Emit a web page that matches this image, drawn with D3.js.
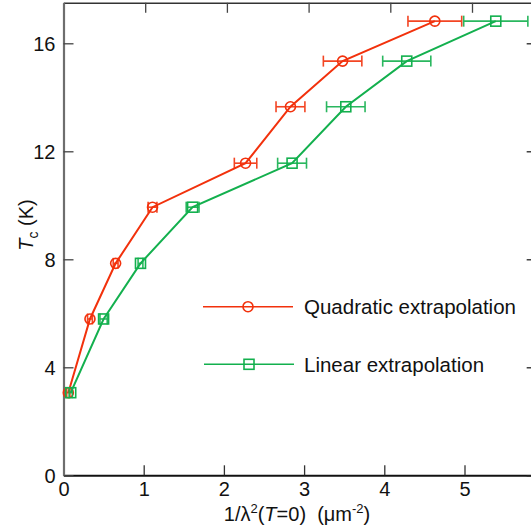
<!DOCTYPE html>
<html><head><meta charset="utf-8">
<script src="https://cdn.jsdelivr.net/npm/d3@7"></script>
<style>body{margin:0;background:#fff}svg{display:block}text{font-family:"Liberation Sans",Arial,Helvetica,sans-serif}</style>
</head><body><svg id="c" width="531" height="531"></svg>
<script>
// Data
const quadX   = [0.06, 0.33, 0.65, 1.11, 2.27, 2.83, 3.48, 4.63];
const quadErr = [0.02, 0.03, 0.03, 0.055, 0.14, 0.18, 0.24, 0.335];
const linX    = [0.09, 0.50, 0.96, 1.61, 2.85, 3.52, 4.28, 5.39];
const linErr  = [0.02, 0.045, 0.03, 0.08, 0.18, 0.24, 0.30, 0.40];
const tcY     = [3.06, 5.79, 7.85, 9.93, 11.56, 13.65, 15.34, 16.82];
const xTicks  = [0, 1, 2, 3, 4, 5];
const yTicks  = [0, 4, 8, 12, 16];
const seriesNames = ["Quadratic extrapolation", "Linear extrapolation"];

const RED = "#f2310c", GREEN = "#13b04e";
const svg = d3.select("#c");
const x = d3.scaleLinear().domain([0, 5.9]).range([63.5, 63.5 + 5.9 * 80.2]);
const xTop = d3.scaleLinear().domain([0, 5.9]).range([63.5, 63.5 + 5.9 * 81.7]);
const y = d3.scaleLinear().domain([0, 17.5]).range([475.3, 2.8]);

const font = 20;
// axes
const gB = svg.append("g").attr("transform", `translate(0,${y(0)})`)
  .call(d3.axisBottom(x).tickValues(xTicks).tickSizeInner(-10).tickSizeOuter(0).tickPadding(7).tickFormat(d3.format("d")));
const gT = svg.append("g").attr("transform", `translate(0,${y(17.5)})`)
  .call(d3.axisTop(xTop).tickValues(xTicks).tickSizeInner(-10).tickSizeOuter(0).tickFormat(""));
const gL = svg.append("g").attr("transform", `translate(${x(0)},0)`)
  .call(d3.axisLeft(y).tickValues(yTicks).tickSizeInner(-10).tickSizeOuter(0).tickPadding(8).tickFormat(d3.format("d")));
const gR = svg.append("g").attr("transform", `translate(${x(5.9)},0)`)
  .call(d3.axisRight(y).tickValues(yTicks).tickSizeInner(-10).tickSizeOuter(0).tickFormat(""));
[gB, gT, gL, gR].forEach(g => {
  g.selectAll("text").attr("font-size", font).attr("fill", "#111").style("font-family", '"Liberation Sans",Arial,sans-serif');
  g.selectAll(".tick line").attr("stroke", "#222").attr("stroke-width", 1.3);
});
gB.select(".domain").attr("stroke", "#111").attr("stroke-width", 2);
gT.select(".domain").attr("stroke", "#333").attr("stroke-width", 1.5);
gL.select(".domain").attr("stroke", "#6e6e6e").attr("stroke-width", 2.2);
gL.selectAll(".tick line").attr("stroke", "#444");
gB.selectAll(".tick line").attr("stroke", "#333");
gT.selectAll(".tick line").attr("stroke", "#444");
gL.selectAll(".tick text").attr("dy", "0.36em");
gB.selectAll(".tick text").attr("dy", "0.71em");

// axis labels
const yl = svg.append("text").attr("transform", "translate(33,225) rotate(-90)")
  .attr("text-anchor", "middle").attr("font-size", font).attr("fill", "#111");
yl.append("tspan").attr("font-style", "italic").text("T");
yl.append("tspan").attr("font-size", 14).attr("dy", 5).text("c");
yl.append("tspan").attr("dy", -5).text(" (K)");

const xl = svg.append("text").attr("x", 297).attr("y", 521).attr("text-anchor", "middle")
  .attr("font-size", font).attr("fill", "#111");
xl.append("tspan").text("1/λ");
xl.append("tspan").attr("font-size", 13).attr("dy", -8).text("2");
xl.append("tspan").attr("dy", 8).text("(");
xl.append("tspan").attr("font-style", "italic").text("T");
xl.append("tspan").text("=0)\u00a0\u00a0(μm");
xl.append("tspan").attr("font-size", 13).attr("dy", -8).text("-2");
xl.append("tspan").attr("dy", 8).text(")");

// series
const quad = quadX.map((v, i) => ({x: v, y: tcY[i], e: quadErr[i]}));
const lin = linX.map((v, i) => ({x: v, y: tcY[i], e: linErr[i]}));
const line = d3.line().x(d => x(d.x)).y(d => y(d.y));

function drawSeries(data, color, marker) {
  const g = svg.append("g");
  g.append("path").datum(data).attr("d", line).attr("fill", "none").attr("stroke", color).attr("stroke-width", 2);
  const eb = g.append("g").attr("stroke", color).attr("stroke-width", 1.6).attr("opacity", 0.9);
  data.forEach(d => {
    const x1 = x(d.x - d.e), x2 = x(d.x + d.e), yy = y(d.y);
    eb.append("line").attr("x1", x1).attr("x2", x2).attr("y1", yy).attr("y2", yy);
    eb.append("line").attr("x1", x1).attr("x2", x1).attr("y1", yy - 5.5).attr("y2", yy + 5.5);
    eb.append("line").attr("x1", x2).attr("x2", x2).attr("y1", yy - 5.5).attr("y2", yy + 5.5);
  });
  data.forEach(d => drawMarker(g, marker, x(d.x), y(d.y), color));
}
function drawMarker(g, marker, cx, cy, color) {
  if (marker === "circle") {
    g.append("circle").attr("cx", cx).attr("cy", cy).attr("r", 5).attr("fill", "none")
      .attr("stroke", color).attr("stroke-width", 1.6);
  } else {
    g.append("rect").attr("x", cx - 5).attr("y", cy - 5).attr("width", 10).attr("height", 10)
      .attr("fill", "none").attr("stroke", color).attr("stroke-width", 1.6);
  }
}
drawSeries(quad, RED, "circle");
drawSeries(lin, GREEN, "square");

// legend
const leg = [{name: seriesNames[0], color: RED, m: "circle", yy: 306.7, x0: 203},
             {name: seriesNames[1], color: GREEN, m: "square", yy: 364.3, x0: 204}];
leg.forEach(l => {
  const g = svg.append("g");
  g.append("line").attr("x1", l.x0).attr("x2", l.x0 + 90).attr("y1", l.yy).attr("y2", l.yy)
    .attr("stroke", l.color).attr("stroke-width", 1.6);
  drawMarker(g, l.m, l.x0 + 45, l.yy, l.color);
  g.append("text").attr("x", 304).attr("y", l.yy).attr("dy", "0.36em").attr("font-size", 20.5)
    .attr("fill", "#111").text(l.name);
});
</script></body></html>
